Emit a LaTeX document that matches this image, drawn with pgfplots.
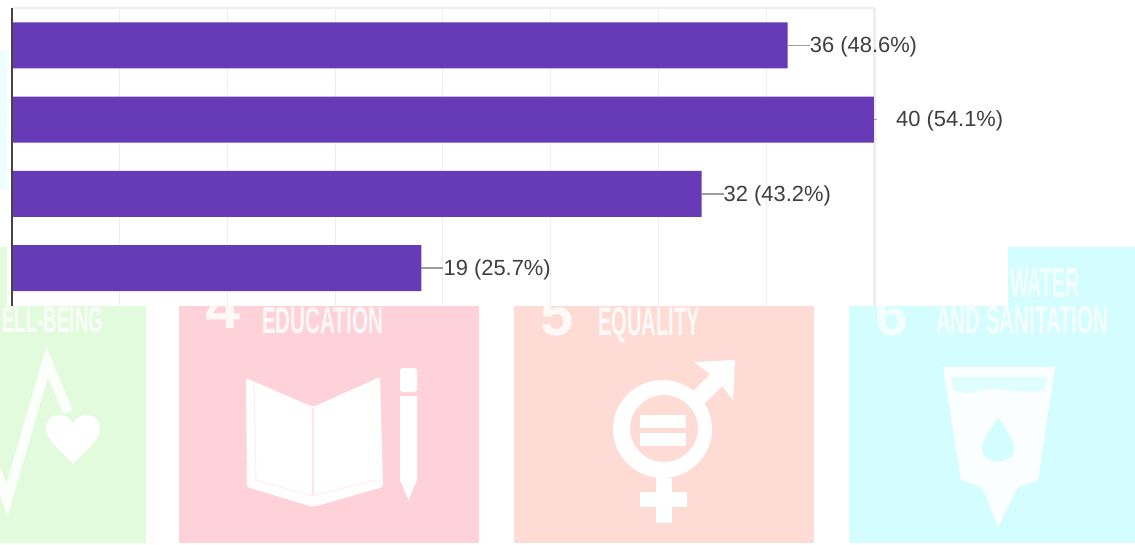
\documentclass[border=0pt]{standalone}
\usepackage{fontspec}
\setmainfont{Liberation Sans}
\usepackage{pgfplots}
\pgfplotsset{compat=1.18}
\definecolor{barc}{HTML}{673AB7}
\definecolor{gridc}{HTML}{EEEEEE}
\definecolor{axc}{HTML}{444444}
\definecolor{labc}{HTML}{3F3F3F}
\definecolor{leadc}{HTML}{9E9E9E}
\definecolor{sgreen}{HTML}{E2FBDD}
\definecolor{sred}{HTML}{FFD2DA}
\definecolor{sorange}{HTML}{FFDBD6}
\definecolor{scyan}{HTML}{D4FDFF}
\newcommand{\sdgtext}[3]{\resizebox{#1pt}{#2pt}{\bfseries #3}}
\begin{document}
\begin{tikzpicture}[x=1pt,y=1pt]
\path[use as bounding box] (0,0) rectangle (1135,544);
\begin{scope}[x=1pt,y=-1pt,yshift=544pt]
  \clip (0,0) rectangle (1135,544);
  % faded SDG squares
  \fill[sgreen] (0,247) rectangle (146,543);
  \fill[sred] (179,300) rectangle (479,543);
  \fill[sorange] (514,300) rectangle (814,543);
  \fill[scyan] (849,300) rectangle (1135,543);
  \fill[scyan] (1008,247) rectangle (1135,300);
  \fill[scyan!45!white] (0,50) rectangle (7,190);
  % numbers (cut by the white panel)
  \node[white,opacity=.85,inner sep=0,anchor=base west] at (205,328) {\sdgtext{35}{42}{4}};
  \node[white,opacity=.85,inner sep=0,anchor=base west] at (540,335) {\sdgtext{33}{42}{5}};
  \node[white,opacity=.7,inner sep=0,anchor=base west] at (875,335) {\sdgtext{33}{42}{6}};
  % headings
  \node[white,opacity=.85,inner sep=0,anchor=base west] at (2,332) {\sdgtext{101}{25}{ELL-BEING}};
  \node[white,opacity=.85,inner sep=0,anchor=base west] at (262,333) {\sdgtext{121}{26}{EDUCATION}};
  \node[white,opacity=.85,inner sep=0,anchor=base west] at (598,335) {\sdgtext{102}{28}{EQUALITY}};
  \node[white,opacity=.8,inner sep=0,anchor=base west] at (936,333) {\sdgtext{172}{27}{AND SANITATION}};
  \node[white,opacity=.7,inner sep=0,anchor=base west] at (1010,297) {\sdgtext{70}{29}{WATER}};
  % heartbeat and heart
  \draw[white,opacity=.9,line width=10pt,line join=miter] (-4,470) -- (7,500) -- (47,362) -- (68,412);
  \fill[white] (73,464) .. controls (60,450) and (46,440) .. (46,428)
     .. controls (46,413) and (66,410) .. (73,423)
     .. controls (80,410) and (100,413) .. (100,428)
     .. controls (100,440) and (86,450) .. (73,464) -- cycle;
  % book and pencil
  \fill[white,rounded corners=2pt] (246,378) -- (313,407) -- (380,377) -- (383,487) -- (313,507) -- (247,487) -- cycle;
  \draw[sred!60!white,line width=1.2pt] (313,408) -- (313,495);
  \draw[sred!40!white,line width=1pt] (254,384) -- (256,480) -- (312,496) -- (375,480);
  \fill[white,rounded corners=3pt] (400,368) -- (417,368) -- (417,392) -- (400,392) -- cycle;
  \fill[white] (400,396) -- (417,396) -- (417,480) -- (408.5,500) -- (400,480) -- cycle;
  % gender symbol
  \fill[white,even odd rule] (662.5,429) ellipse [x radius=49.5pt,y radius=49pt]
       (664,428.5) ellipse [x radius=34pt,y radius=33.5pt];
  \fill[white] (640,415) rectangle (686,428);
  \fill[white] (640,433) rectangle (686,446);
  \fill[white] (656,478) rectangle (672,523);
  \fill[white] (640,492) rectangle (687,507);
  \fill[white] (694,362) -- (735,360) -- (733,400) -- (722,386) -- (700,408) -- (688,396) -- (710,374) -- cycle;
  % water glass
  \fill[white,opacity=.92] (943,367) -- (1055,367) -- (1038,480) -- (1018,487) -- (998,527) -- (982,487) -- (961,480) -- cycle;
  \fill[scyan!70!white] (951,377) -- (1047,377) -- (1045,390) .. controls (1020,396) and (1000,384) .. (975,392) .. controls (965,394) and (958,392) .. (953,390) -- cycle;
  \fill[scyan] (998,417) .. controls (1006,430) and (1014,440) .. (1014,448)
     .. controls (1014,466) and (982,466) .. (982,448)
     .. controls (982,440) and (990,430) .. (998,417) -- cycle;
  % white panel behind the chart
  \fill[white] (7,0) rectangle (1008,306);
\end{scope}
\begin{axis}[
  at={(12pt,238pt)}, anchor=south west,
  scale only axis, width=863pt, height=298pt,
  xmin=0, xmax=40.05, ymin=-0.51, ymax=3.505,
  clip=false,
  axis x line*=top, axis y line*=right,
  axis line style={color=gridc,line width=1.5pt,-},
  xtick={5,10,15,20,25,30,35,40}, xticklabels={},
  ytick=\empty,
  major tick length=0pt,
  xmajorgrids, grid style={color=gridc,line width=1pt},
]
\addplot[sharp plot,no marks,color=leadc,line width=1.5pt] coordinates {(36,3) (37.02,3)};
\addplot[sharp plot,no marks,color=leadc,line width=1pt] coordinates {(40,2) (40.15,2)};
\addplot[sharp plot,no marks,color=leadc,line width=1.5pt] coordinates {(32,1) (33.02,1)};
\addplot[sharp plot,no marks,color=leadc,line width=1.5pt] coordinates {(19,0) (20.02,0)};
\addplot[xbar,bar width=46pt,bar shift=0pt,fill=barc,draw=none,
  point meta=explicit symbolic,
  nodes near coords={\pgfplotspointmeta},
  nodes near coords style={anchor=west,inner sep=0pt,xshift=22pt,yshift=-1.5pt,text=labc,
     font=\fontsize{21.9}{26}\selectfont},
] coordinates {
  (36,3) [36 (48.6\%)]
  (40,2) [40 (54.1\%)]
  (32,1) [32 (43.2\%)]
  (19,0) [19 (25.7\%)]
};
\addplot[sharp plot,no marks,color=axc,line width=2pt] coordinates {(0,-0.51) (0,3.505)};
\end{axis}
\end{tikzpicture}
\end{document}
